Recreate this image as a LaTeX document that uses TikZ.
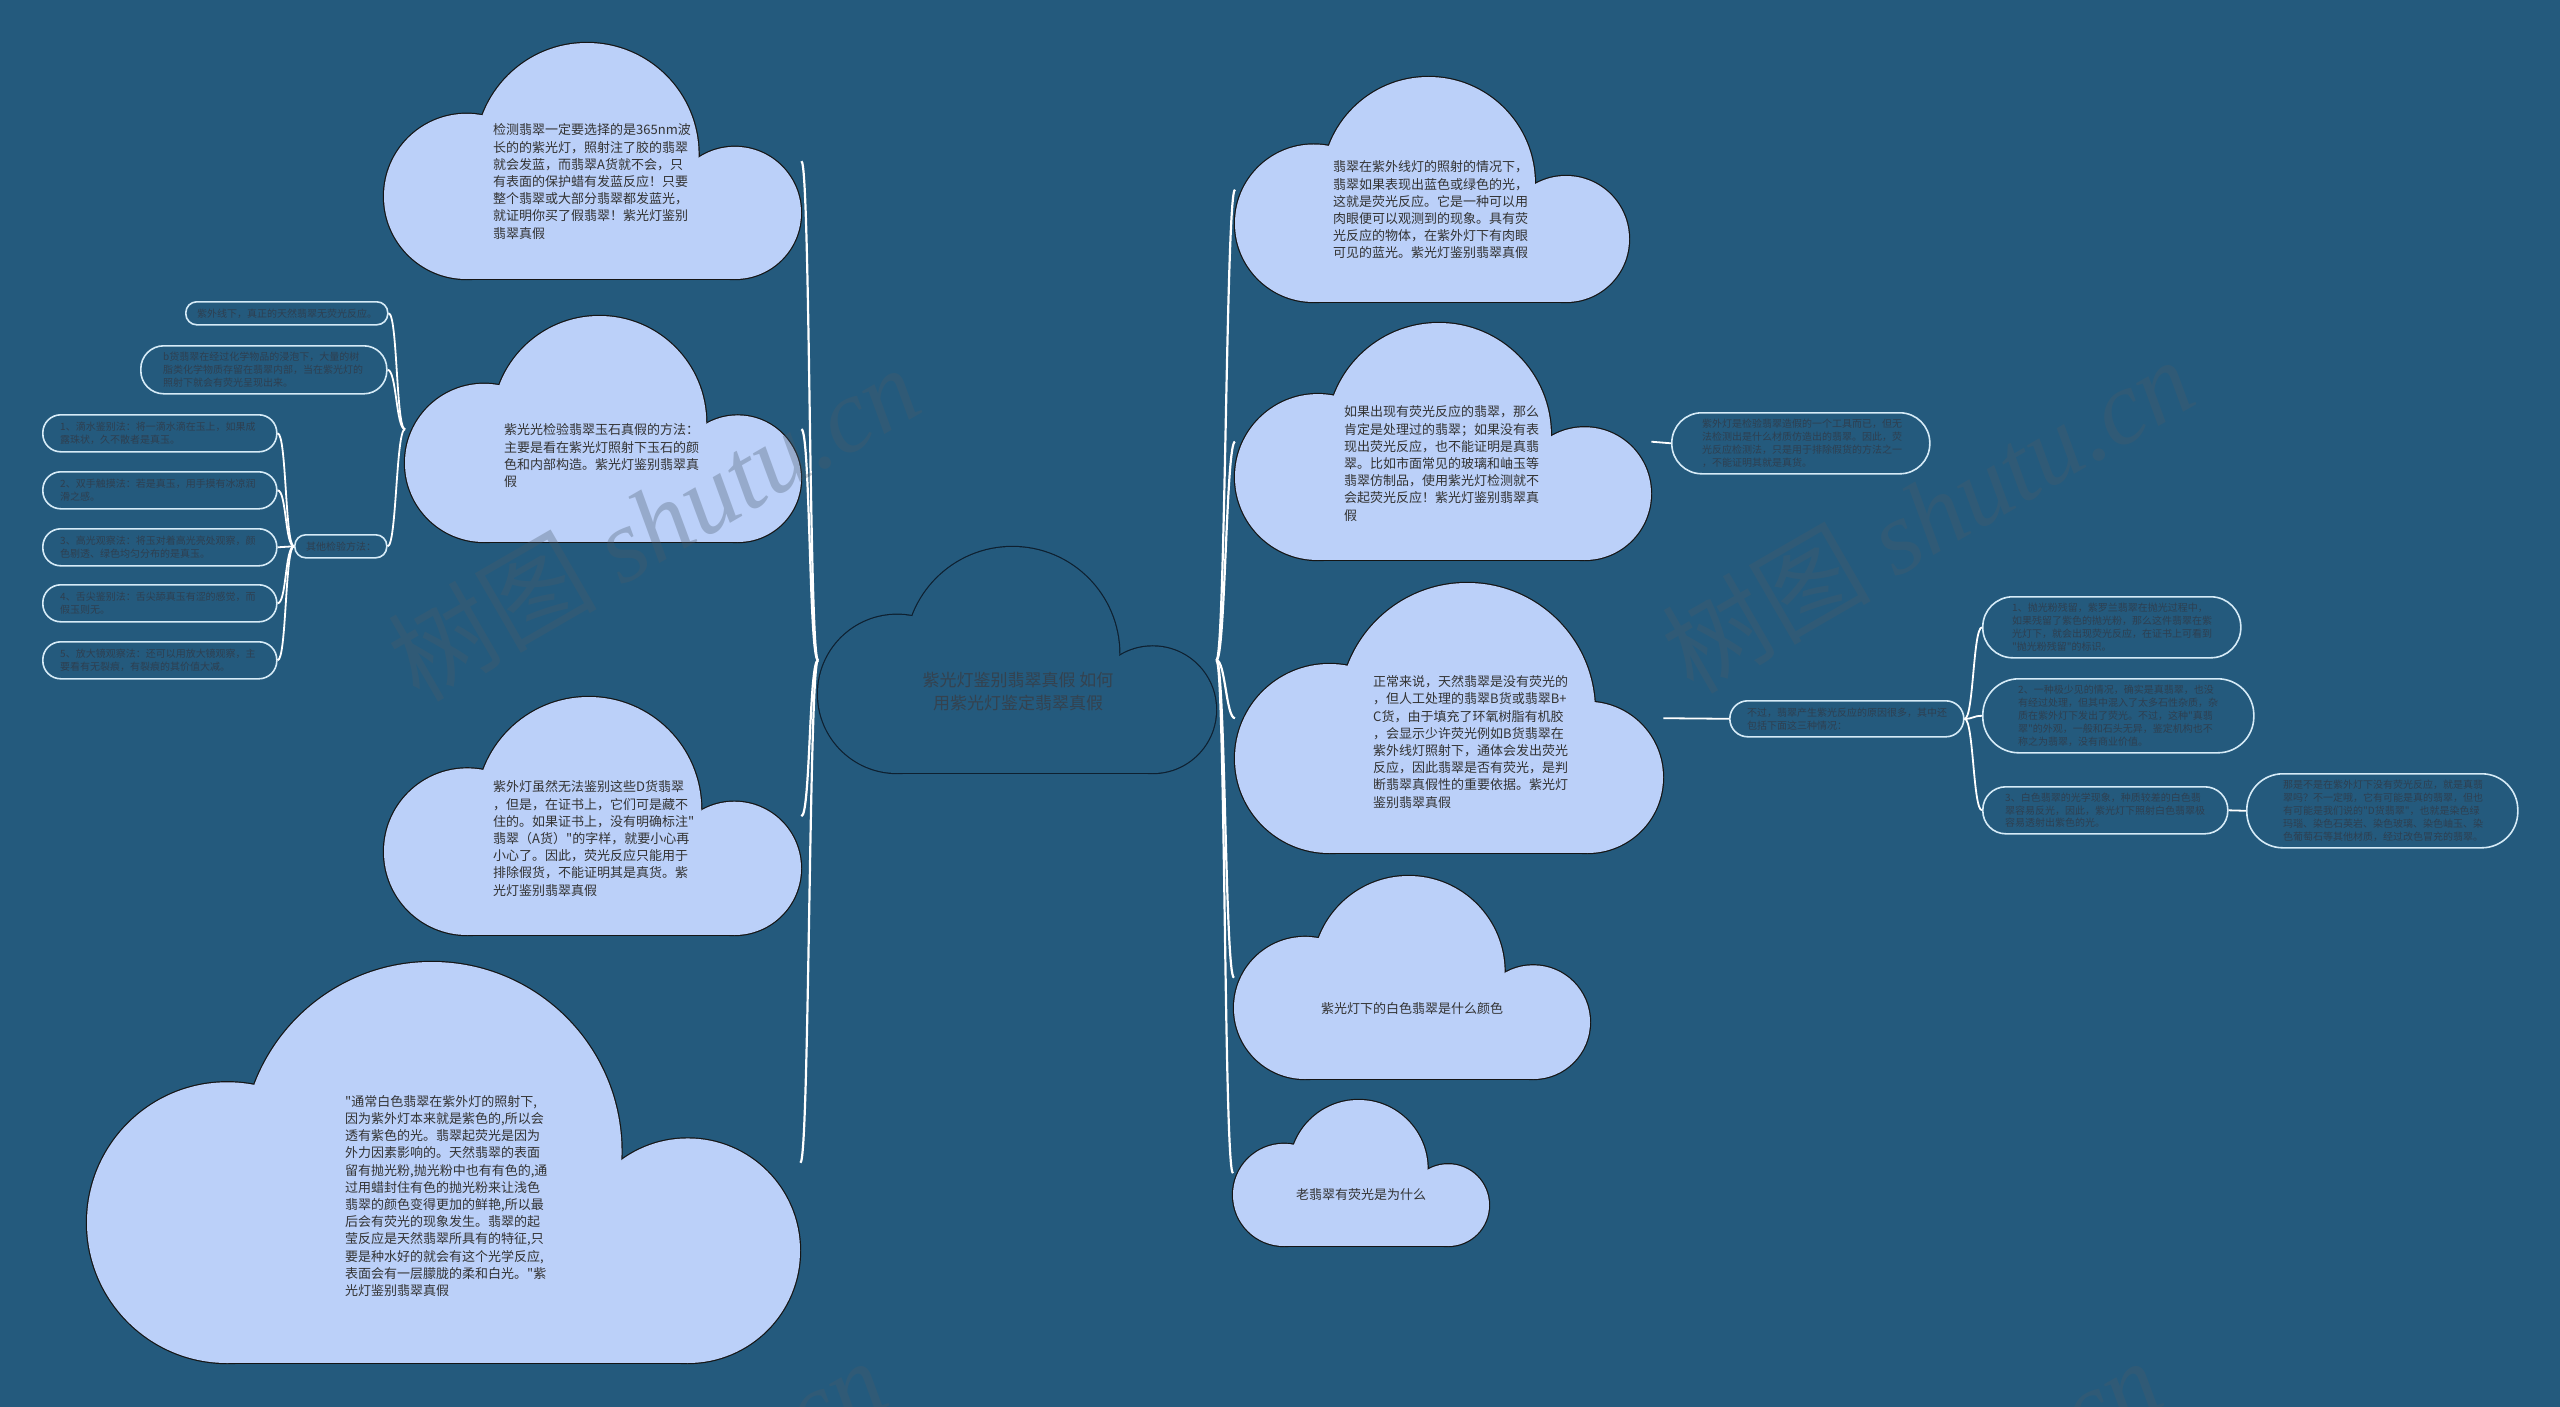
\documentclass[tikz,border=0pt]{standalone}
\usepackage{fontspec}
\newfontfamily\cjk{Noto Sans CJK SC}
\newfontfamily\wmserif{Liberation Serif}
\definecolor{bg}{HTML}{245A7D}
\definecolor{cloudfill}{HTML}{BBD0F9}
\definecolor{cloudline}{HTML}{151515}
\definecolor{ctrline}{HTML}{0E2030}
\definecolor{txtdark}{HTML}{333333}
\definecolor{ctrtext}{HTML}{34424F}
\definecolor{boxline}{HTML}{D6EBF7}
\definecolor{boxtext}{HTML}{2E3F50}
\definecolor{wmcol}{HTML}{4A5A6A}
\newcommand\mycloud[6]{%
 \begin{scope}[shift={(#1,#2)}]
  \path[draw=#6,line width=2.4pt] (0.35*#4,0.65*#4) circle[radius={0.35*#4pt}];
  \path[draw=#6,line width=2.4pt] (0.86*#4,0.473*#4) circle[radius={0.473*#4pt}];
  \path[draw=#6,line width=2.4pt] ({#3-0.28*#4},0.72*#4) circle[radius={0.28*#4pt}];
  \path[draw=#6,line width=2.4pt] (0.35*#4,0.5*#4) rectangle ({#3-0.28*#4},#4);
  \path[fill=#5] (0.35*#4,0.65*#4) circle[radius={0.35*#4pt}];
  \path[fill=#5] (0.86*#4,0.473*#4) circle[radius={0.473*#4pt}];
  \path[fill=#5] ({#3-0.28*#4},0.72*#4) circle[radius={0.28*#4pt}];
  \path[fill=#5] (0.35*#4,0.5*#4) rectangle ({#3-0.28*#4},#4);
 \end{scope}}
\tikzset{
 conn/.style={draw=white,line width=2.2pt},
 subconn/.style={draw=white,line width=1.8pt},
 area/.style={inner sep=0pt,anchor=north west},
 cloudtxt/.style={font=\cjk\fontsize{13pt}{17.2pt}\selectfont,text=txtdark,align=left,inner sep=0pt,anchor=west},
 boxtxt/.style={font=\cjk\fontsize{10pt}{12.8pt}\selectfont,text=boxtext,align=left,inner sep=0pt,anchor=west},
 leafbox/.style={draw=boxline,line width=1.6pt,fill=bg,anchor=north west,inner sep=0pt},
 wm/.style={rotate=30,text=wmcol,opacity=0.32,inner sep=0pt,font=\cjk\fontsize{105pt}{110pt}\selectfont},
}
\begin{document}
\begin{tikzpicture}[x=1pt,y=-1pt]
\useasboundingbox (0,0) rectangle (2560,1407);
\fill[bg] (0,0) rectangle (2560,1407);

% bounding areas of clouds
\node[area,minimum width=398pt,minimum height=226pt] (ctr) at (818,547) {};
\node[area,minimum width=417pt,minimum height=236pt] (c1) at (384,43) {};
\node[area,minimum width=396pt,minimum height=226pt] (c2) at (405,316) {};
\node[area,minimum width=417pt,minimum height=238pt] (c3) at (384,697) {};
\node[area,minimum width=713pt,minimum height=401pt] (c4) at (87,962) {};
\node[area,minimum width=394pt,minimum height=225pt] (r1) at (1235,77) {};
\node[area,minimum width=416pt,minimum height=237pt] (r2) at (1235,323) {};
\node[area,minimum width=428pt,minimum height=270pt] (r3) at (1235,583) {};
\node[area,minimum width=356pt,minimum height=203pt] (r4) at (1234,876) {};
\node[area,minimum width=256pt,minimum height=146pt] (r5) at (1233,1100) {};

% leaf boxes
\node[leafbox,minimum width=202pt,minimum height=23pt,rounded corners=11pt] (l1) at (185,301) {};
\node[leafbox,minimum width=246pt,minimum height=48pt,rounded corners=23pt] (l2) at (140,345) {};
\node[leafbox,minimum width=92pt,minimum height=23pt,rounded corners=11pt] (o) at (294,534) {};
\node[leafbox,minimum width=234pt,minimum height=37pt,rounded corners=18pt] (s1) at (42,414) {};
\node[leafbox,minimum width=234pt,minimum height=37pt,rounded corners=18pt] (s2) at (42,471) {};
\node[leafbox,minimum width=234pt,minimum height=37pt,rounded corners=18pt] (s3) at (42,528) {};
\node[leafbox,minimum width=234pt,minimum height=37pt,rounded corners=18pt] (s4) at (42,584) {};
\node[leafbox,minimum width=234pt,minimum height=37pt,rounded corners=18pt] (s5) at (42,641) {};
\node[leafbox,minimum width=258pt,minimum height=61pt,rounded corners=30pt] (rb1) at (1671,412) {};
\node[leafbox,minimum width=234pt,minimum height=36pt,rounded corners=18pt] (b) at (1729,700) {};
\node[leafbox,minimum width=258pt,minimum height=61pt,rounded corners=30pt] (t1) at (1982,596) {};
\node[leafbox,minimum width=271pt,minimum height=74pt,rounded corners=36pt] (t2) at (1982,678) {};
\node[leafbox,minimum width=245pt,minimum height=47pt,rounded corners=23pt] (t3) at (1982,786) {};
\node[leafbox,minimum width=271pt,minimum height=74pt,rounded corners=36pt] (t3b) at (2246,773) {};

% connectors
\foreach \c in {c1,c2,c3,c4}{\draw[conn] (ctr.west) .. controls +(-9,0) and +(9,0) .. (\c.east);}
\foreach \c in {r1,r2,r3,r4,r5}{\draw[conn] (ctr.east) .. controls +(9,0) and +(-9,0) .. (\c.west);}
\foreach \c in {l1,l2,o}{\draw[subconn] (c2.west) .. controls +(-9,0) and +(9,0) .. (\c.east);}
\foreach \c in {s1,s2,s3,s4,s5}{\draw[subconn] (o.west) .. controls +(-9,0) and +(9,0) .. (\c.east);}
\draw[subconn] (r2.east) -- (rb1.west);
\draw[subconn] (r3.east) -- (b.west);
\foreach \c in {t1,t2,t3}{\draw[subconn] (b.east) .. controls +(9,0) and +(-9,0) .. (\c.west);}
\draw[subconn] (t3.east) -- (t3b.west);

% clouds
\mycloud{818}{547}{398}{226}{bg}{ctrline}
\mycloud{384}{43}{417}{236}{cloudfill}{cloudline}
\mycloud{405}{316}{396}{226}{cloudfill}{cloudline}
\mycloud{384}{697}{417}{238}{cloudfill}{cloudline}
\mycloud{87}{962}{713}{401}{cloudfill}{cloudline}
\mycloud{1235}{77}{394}{225}{cloudfill}{cloudline}
\mycloud{1235}{323}{416}{237}{cloudfill}{cloudline}
\mycloud{1235}{583}{428}{270}{cloudfill}{cloudline}
\mycloud{1234}{876}{356}{203}{cloudfill}{cloudline}
\mycloud{1233}{1100}{256}{146}{cloudfill}{cloudline}

% cloud texts
\node[font=\cjk\fontsize{17pt}{22.7pt}\selectfont,text=ctrtext,align=center,inner sep=0pt] (ctrt) at (1018,691.5) {紫光灯鉴别翡翠真假 如何\\用紫光灯鉴定翡翠真假};
\node[cloudtxt] (c1t) at (493,181.6) {检测翡翠一定要选择的是365nm波\\长的的紫光灯，照射注了胶的翡翠\\就会发蓝，而翡翠A货就不会，只\\有表面的保护蜡有发蓝反应！只要\\整个翡翠或大部分翡翠都发蓝光，\\就证明你买了假翡翠！紫光灯鉴别\\翡翠真假};
\node[cloudtxt] (c2t) at (504,455.8) {紫光光检验翡翠玉石真假的方法：\\主要是看在紫光灯照射下玉石的颜\\色和内部构造。紫光灯鉴别翡翠真\\假};
\node[cloudtxt] (c3t) at (493,838.6) {紫外灯虽然无法鉴别这些D货翡翠\\，但是，在证书上，它们可是藏不\\住的。如果证书上，没有明确标注"\\翡翠（A货）"的字样，就要小心再\\小心了。因此，荧光反应只能用于\\排除假货，不能证明其是真货。紫\\光灯鉴别翡翠真假};
\node[cloudtxt] (c4t) at (345,1196) {"通常白色翡翠在紫外灯的照射下,\\因为紫外灯本来就是紫色的,所以会\\透有紫色的光。翡翠起荧光是因为\\外力因素影响的。天然翡翠的表面\\留有抛光粉,抛光粉中也有有色的,通\\过用蜡封住有色的抛光粉来让浅色\\翡翠的颜色变得更加的鲜艳,所以最\\后会有荧光的现象发生。翡翠的起\\莹反应是天然翡翠所具有的特征,只\\要是种水好的就会有这个光学反应,\\表面会有一层朦胧的柔和白光。"紫\\光灯鉴别翡翠真假};
\node[cloudtxt] (r1t) at (1333,210) {翡翠在紫外线灯的照射的情况下，\\翡翠如果表现出蓝色或绿色的光，\\这就是荧光反应。它是一种可以用\\肉眼便可以观测到的现象。具有荧\\光反应的物体，在紫外灯下有肉眼\\可见的蓝光。紫光灯鉴别翡翠真假};
\node[cloudtxt] (r2t) at (1344,463.5) {如果出现有荧光反应的翡翠，那么\\肯定是处理过的翡翠；如果没有表\\现出荧光反应，也不能证明是真翡\\翠。比如市面常见的玻璃和岫玉等\\翡翠仿制品，使用紫光灯检测就不\\会起荧光反应！紫光灯鉴别翡翠真\\假};
\node[cloudtxt] (r3t) at (1373,742) {正常来说，天然翡翠是没有荧光的\\，但人工处理的翡翠B货或翡翠B+\\C货，由于填充了环氧树脂有机胶\\，会显示少许荧光例如B货翡翠在\\紫外线灯照射下，通体会发出荧光\\反应，因此翡翠是否有荧光，是判\\断翡翠真假性的重要依据。紫光灯\\鉴别翡翠真假};
\node[cloudtxt,anchor=center] (r4t) at (1412,1009) {紫光灯下的白色翡翠是什么颜色};
\node[cloudtxt,anchor=center] (r5t) at (1361,1195) {老翡翠有荧光是为什么};

% box texts
\node[boxtxt] (l1t) at ([xshift=12pt]l1.west) {紫外线下，真正的天然翡翠无荧光反应。};
\node[boxtxt] (l2t) at ([xshift=23pt]l2.west) {b货翡翠在经过化学物品的浸泡下，大量的树\\脂类化学物质存留在翡翠内部，当在紫光灯的\\照射下就会有荧光呈现出来。};
\node[boxtxt] (ot) at ([xshift=12pt]o.west) {其他检验方法：};
\node[boxtxt] (s1t) at ([xshift=18pt]s1.west) {1、滴水鉴别法：将一滴水滴在玉上，如果成\\露珠状，久不散者是真玉。};
\node[boxtxt] (s2t) at ([xshift=18pt]s2.west) {2、双手触摸法：若是真玉，用手摸有冰凉润\\滑之感。};
\node[boxtxt] (s3t) at ([xshift=18pt]s3.west) {3、高光观察法：将玉对着高光亮处观察，颜\\色剔透、绿色均匀分布的是真玉。};
\node[boxtxt] (s4t) at ([xshift=18pt]s4.west) {4、舌尖鉴别法：舌尖舔真玉有涩的感觉，而\\假玉则无。};
\node[boxtxt] (s5t) at ([xshift=18pt]s5.west) {5、放大镜观察法：还可以用放大镜观察，主\\要看有无裂痕，有裂痕的其价值大减。};
\node[boxtxt] (rb1t) at ([xshift=31pt]rb1.west) {紫外灯是检验翡翠造假的一个工具而已，但无\\法检测出是什么材质仿造出的翡翠。因此，荧\\光反应检测法，只是用于排除假货的方法之一\\，不能证明其就是真货。};
\node[boxtxt] (bt) at ([xshift=18pt]b.west) {不过，翡翠产生紫光反应的原因很多，其中还\\包括下面这三种情况：};
\node[boxtxt] (t1t) at ([xshift=30pt]t1.west) {1、抛光粉残留，紫罗兰翡翠在抛光过程中，\\如果残留了紫色的抛光粉，那么这件翡翠在紫\\光灯下，就会出现荧光反应，在证书上可看到\\"抛光粉残留"的标识。};
\node[boxtxt] (t2t) at ([xshift=36pt]t2.west) {2、一种极少见的情况，确实是真翡翠，也没\\有经过处理，但其中混入了太多石性杂质，杂\\质在紫外灯下发出了荧光。不过，这种"真翡\\翠"的外观，一般和石头无异，鉴定机构也不\\称之为翡翠，没有商业价值。};
\node[boxtxt] (t3t) at ([xshift=23pt]t3.west) {3、白色翡翠的光学现象，种质较差的白色翡\\翠容易反光，因此，紫光灯下照射白色翡翠极\\容易透射出紫色的光。};
\node[boxtxt] (t3bt) at ([xshift=37pt]t3b.west) {那是不是在紫外灯下没有荧光反应，就是真翡\\翠吗？不一定哦，它有可能是真的翡翠，但也\\有可能是我们说的"D货翡翠"，也就是染色绿\\玛瑙、染色石英岩、染色玻璃、染色岫玉、染\\色葡萄石等其他材质，经过改色冒充的翡翠。};

% watermarks
\begin{scope}
\clip (0,0) rectangle (2560,1407);
\node[wm] (wm1) at (653,522) {树图 {\wmserif\itshape shutu.cn}};
\node[wm] (wm2) at (1927,514) {树图 {\wmserif\itshape shutu.cn}};
\node[wm] (wm3) at (620,1515) {树图 {\wmserif\itshape shutu.cn}};
\node[wm] (wm4) at (1895,1515) {树图 {\wmserif\itshape shutu.cn}};
\end{scope}
\end{tikzpicture}
\end{document}
